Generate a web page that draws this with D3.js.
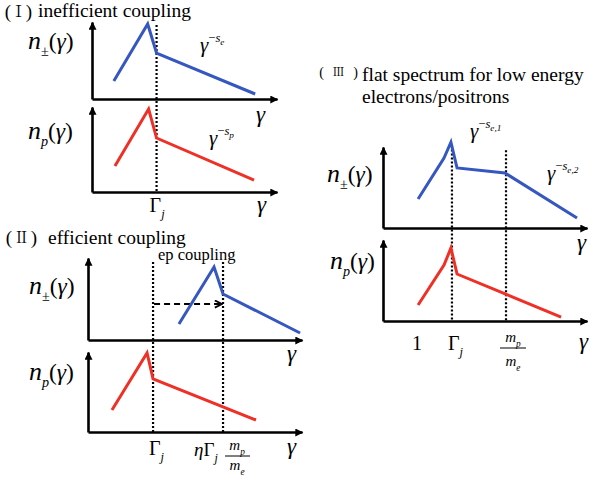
<!DOCTYPE html>
<html>
<head>
<meta charset="utf-8">
<script src="https://cdn.jsdelivr.net/npm/d3@7"></script>
<style>
  body { margin: 0; background: #fff; }
  svg { display: block; }
</style>
</head>
<body>
<script>
// Schematic spectra, arbitrary log units: position along the γ axis (0–10)
// and height along the n axis (0–10) for each panel.

// (I) inefficient coupling
const p1PairGamma   = [1.18, 3.01, 3.49, 8.82];
const p1PairN       = [2.34, 9.74, 5.97, 0.65];
const p1ProtonGamma = [1.24, 3.06, 3.49, 8.76];
const p1ProtonN     = [3.06, 9.76, 6.35, 1.41];
const p1Breaks      = [3.49];            // Γj

// (II) efficient coupling
const p2PairGamma   = [4.25, 5.89, 6.31, 9.91];
const p2PairN       = [1.95, 8.90, 5.61, 0.85];
const p2ProtonGamma = [1.12, 2.76, 3.04, 7.85];
const p2ProtonN     = [2.75, 9.88, 6.63, 1.50];
const p2Breaks      = [3.04, 6.31];      // Γj, ηΓj mp/me
const p2ShiftN      = [4.39];            // height of the ep-coupling arrow

// (III) flat spectrum for low energy electrons/positrons
const p3PairGamma   = [1.72, 2.99, 3.33, 3.63, 5.98, 9.51];
const p3PairN       = [3.58, 8.64, 10.6, 7.41, 6.79, 1.23];
const p3ProtonGamma = [1.72, 2.99, 3.33, 3.63, 8.73];
const p3ProtonN     = [1.98, 6.91, 9.01, 5.80, 0.49];
const p3Breaks      = [3.38, 6.03];      // Γj, mp/me
const p3UnitGamma   = [1.67];            // γ = 1

const BLUE = "#3557bf", RED = "#ee3026";
const SERIF = '"Liberation Serif"';
const NUMERAL = '"Noto Serif CJK SC"';

const svg = d3.select("body").append("svg")
  .attr("width", 589).attr("height", 485);

const defs = svg.append("defs");
defs.append("marker").attr("id", "head")
  .attr("viewBox", "0 0 10 10").attr("refX", 9).attr("refY", 5)
  .attr("markerUnits", "userSpaceOnUse")
  .attr("markerWidth", 9).attr("markerHeight", 8).attr("orient", "auto")
  .append("path").attr("d", "M0,0L10,5L0,10Z").attr("fill", "#000");
defs.append("marker").attr("id", "chevron")
  .attr("viewBox", "0 0 10 10").attr("refX", 9).attr("refY", 5)
  .attr("markerUnits", "userSpaceOnUse")
  .attr("markerWidth", 9).attr("markerHeight", 9).attr("orient", "auto")
  .append("path").attr("d", "M1,1L9,5L1,9").attr("fill", "none")
  .attr("stroke", "#000").attr("stroke-width", 2);

function plain(g, x, y, size, str, anchor = "start", family = SERIF) {
  return g.append("text").attr("x", x).attr("y", y)
    .attr("font-size", size).attr("text-anchor", anchor)
    .style("font-family", family).attr("fill", "#000").text(str);
}

// a text run list -> <text> with italic / sub / superscript tspans
function mathText(g, x, y, size, runs, anchor = "start") {
  const t = g.append("text").attr("x", x).attr("y", y)
    .attr("font-size", size).attr("text-anchor", anchor)
    .style("font-family", SERIF).attr("fill", "#000");
  let cur = 0;
  for (const r of runs) {
    const off = (r.off || 0) * size;
    t.append("tspan")
      .attr("dy", off - cur)
      .attr("font-size", (r.sz || 1) * size)
      .attr("font-style", r.it ? "italic" : "normal")
      .text(r.t);
    cur = off;
  }
  return t;
}

const nPair   = [{t: "n", it: 1, sz: 1.1}, {t: "±", off: 0.3, sz: 0.6}, {t: "("}, {t: "γ", it: 1}, {t: ")"}];
const nProton = [{t: "n", it: 1, sz: 1.1}, {t: "p", it: 1, off: 0.3, sz: 0.6}, {t: "("}, {t: "γ", it: 1}, {t: ")"}];
const gammaJ  = [{t: "Γ"}, {t: "j", it: 1, off: 0.32, sz: 0.62}];
const slope = idx => [
  {t: "γ", it: 1},
  {t: "−", off: -0.5, sz: 0.6},
  {t: "s", it: 1, off: -0.5, sz: 0.6},
  {t: idx, it: 1, off: -0.34, sz: 0.44}
];

function axes(g, xs, ys) {
  g.append("g").attr("transform", `translate(0,${ys(0)})`)
    .call(d3.axisBottom(xs).tickValues([]).tickSizeOuter(0))
    .select(".domain").attr("stroke", "#000").attr("stroke-width", 2.6)
    .attr("marker-end", "url(#head)");
  g.append("g").attr("transform", `translate(${xs(0)},0)`)
    .call(d3.axisLeft(ys).tickValues([]).tickSizeOuter(0))
    .select(".domain").attr("stroke", "#000").attr("stroke-width", 2.6)
    .attr("marker-end", "url(#head)");
}

function spectrum(g, xs, ys, gam, n, color) {
  const line = d3.line().x(d => xs(d[0])).y(d => ys(d[1]));
  g.append("path").datum(d3.zip(gam, n)).attr("d", line)
    .attr("fill", "none").attr("stroke", color).attr("stroke-width", 3)
    .attr("stroke-linejoin", "miter");
}

function breaks(g, xs, yTop, yBot, vals, topVal) {
  g.selectAll(null).data(vals).join("line")
    .attr("x1", d => xs(d)).attr("x2", d => xs(d))
    .attr("y1", (d, i) => yTop(topVal[i])).attr("y2", yBot(0))
    .attr("stroke", "#000").attr("stroke-width", 2.2)
    .attr("stroke-dasharray", "2,2");
}

function numeral(g, cx, y, size, glyph, gap) {
  plain(g, cx - gap, y, size, "(", "middle");
  plain(g, cx, y - 1, size * 0.82, glyph, "middle", NUMERAL);
  plain(g, cx + gap, y, size, ")", "middle");
}

// ---------- (I) ----------
{
  const g = svg.append("g");
  const xs = d3.scaleLinear([0, 10], [92, 277]);
  const yTop = d3.scaleLinear([0, 10], [99, 22]);
  const yBot = d3.scaleLinear([0, 10], [192, 107]);
  numeral(g, 18.5, 18, 19, "Ⅰ", 10.5);
  plain(g, 38, 17, 19.5, "inefficient coupling");
  breaks(g, xs, yTop, yBot, p1Breaks, [9.6]);
  axes(g, xs, yTop);
  axes(g, xs, yBot);
  spectrum(g, xs, yTop, p1PairGamma, p1PairN, BLUE);
  spectrum(g, xs, yBot, p1ProtonGamma, p1ProtonN, RED);
  mathText(g, 28, 49, 23.5, nPair);
  mathText(g, 28, 139, 23.5, nProton);
  mathText(g, 200, 52, 21, slope("e"));
  mathText(g, 209, 145, 21, slope("p"));
  mathText(g, 256, 122, 23, [{t: "γ", it: 1}]);
  mathText(g, 257, 212, 23, [{t: "γ", it: 1}]);
  mathText(g, xs(p1Breaks[0]) - 7, 212, 20, gammaJ);
}

// ---------- (II) ----------
{
  const g = svg.append("g");
  const xs = d3.scaleLinear([0, 10], [88, 302]);
  const yTop = d3.scaleLinear([0, 10], [340, 258]);
  const yBot = d3.scaleLinear([0, 10], [432, 352]);
  numeral(g, 21.5, 244, 19, "Ⅱ", 12.5);
  plain(g, 48, 244, 19.5, "efficient coupling");
  plain(g, 158, 260, 16.5, "ep coupling");
  breaks(g, xs, yTop, yBot, p2Breaks, [9.5, 9.5]);
  axes(g, xs, yTop);
  axes(g, xs, yBot);
  g.append("line")
    .attr("x1", xs(p2Breaks[0]) + 1).attr("x2", xs(p2Breaks[1]) - 1)
    .attr("y1", yTop(p2ShiftN[0])).attr("y2", yTop(p2ShiftN[0]))
    .attr("stroke", "#000").attr("stroke-width", 2)
    .attr("stroke-dasharray", "6,4").attr("marker-end", "url(#chevron)");
  spectrum(g, xs, yTop, p2PairGamma, p2PairN, BLUE);
  spectrum(g, xs, yBot, p2ProtonGamma, p2ProtonN, RED);
  mathText(g, 29, 294, 23.5, nPair);
  mathText(g, 29, 380, 23.5, nProton);
  mathText(g, 287, 361, 23, [{t: "γ", it: 1}]);
  mathText(g, 287, 454, 23, [{t: "γ", it: 1}]);
  mathText(g, xs(p2Breaks[0]) - 4, 455, 20, gammaJ);
  // ηΓj · mp/me
  const bx = xs(p2Breaks[1]);
  mathText(g, bx - 29, 456, 19, [{t: "η", it: 1}, {t: "Γ"}, {t: "j", it: 1, off: 0.32, sz: 0.62}]);
  mathText(g, bx + 14, 450, 15, [{t: "m", it: 1}, {t: "p", it: 1, off: 0.3, sz: 0.62}], "middle");
  g.append("line").attr("x1", bx + 2).attr("x2", bx + 27).attr("y1", 456).attr("y2", 456)
    .attr("stroke", "#000").attr("stroke-width", 1);
  mathText(g, bx + 14, 470, 15, [{t: "m", it: 1}, {t: "e", it: 1, off: 0.3, sz: 0.62}], "middle");
}

// ---------- (III) ----------
{
  const g = svg.append("g");
  const xs = d3.scaleLinear([0, 10], [383, 587]);
  const yTop = d3.scaleLinear([0, 10], [228, 147]);
  const yBot = d3.scaleLinear([0, 10], [321, 240]);
  numeral(g, 338.5, 77, 14, "Ⅲ", 17);
  plain(g, 362, 81, 19.5, "flat spectrum for low energy");
  plain(g, 362, 103, 19.5, "electrons/positrons");
  breaks(g, xs, yTop, yBot, p3Breaks, [10.2, 9.6]);
  axes(g, xs, yTop);
  axes(g, xs, yBot);
  spectrum(g, xs, yTop, p3PairGamma, p3PairN, BLUE);
  spectrum(g, xs, yBot, p3ProtonGamma, p3ProtonN, RED);
  mathText(g, 327, 182, 23.5, nPair);
  mathText(g, 330, 269, 23.5, nProton);
  mathText(g, 470, 138, 21, slope("e,1"));
  mathText(g, 547, 180, 21, slope("e,2"));
  mathText(g, 577, 250, 23, [{t: "γ", it: 1}]);
  mathText(g, 579, 349, 23, [{t: "γ", it: 1}]);
  mathText(g, xs(p3UnitGamma[0]), 350, 20, [{t: "1"}], "middle");
  mathText(g, xs(p3Breaks[0]) - 4, 350, 20, gammaJ);
  const bx = xs(p3Breaks[1]);
  mathText(g, bx + 7, 342, 15, [{t: "m", it: 1}, {t: "p", it: 1, off: 0.3, sz: 0.62}], "middle");
  g.append("line").attr("x1", bx - 6).attr("x2", bx + 20).attr("y1", 348).attr("y2", 348)
    .attr("stroke", "#000").attr("stroke-width", 1);
  mathText(g, bx + 7, 366, 15, [{t: "m", it: 1}, {t: "e", it: 1, off: 0.3, sz: 0.62}], "middle");
}
</script>
</body>
</html>
